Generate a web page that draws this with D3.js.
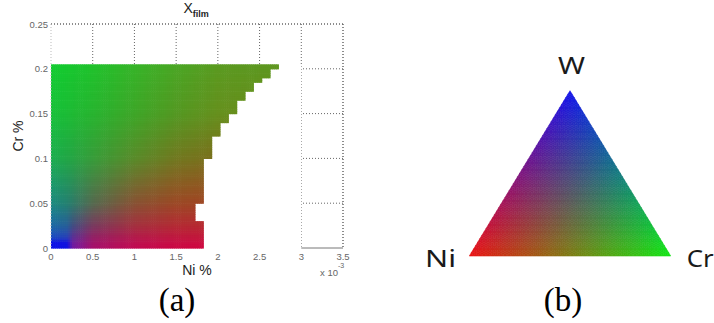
<!DOCTYPE html>
<html>
<head>
<meta charset="utf-8">
<script src="https://cdn.jsdelivr.net/npm/d3@7"></script>
<style>
  body { margin: 0; background: #fff; }
  svg { display: block; }
</style>
</head>
<body>
<div id="chart"></div>
<script>
// ---- panel (a) data ----
const niTicks = [0, 0.5, 1, 1.5, 2, 2.5, 3, 3.5];
const crTicks = [0, 0.05, 0.1, 0.15, 0.2, 0.25];
const crTickLabels = ['0', '0.05', '0.1', '0.15', '0.2', '0.25'];

// edge of the computed region, band by band (Cr range -> largest Ni)
const bandCrLow = [0, 0.03, 0.05, 0.1, 0.125, 0.14, 0.15, 0.165, 0.175, 0.185, 0.19, 0.2];
const bandCrHigh = [0.03, 0.05, 0.1, 0.125, 0.14, 0.15, 0.165, 0.175, 0.185, 0.19, 0.2, 0.205];
const bandNiMax = [1.825, 1.725, 1.825, 1.925, 2.025, 2.125, 2.225, 2.325, 2.425, 2.525, 2.625, 2.725];

// film colour read at sample nodes (rows = Cr, columns = Ni)
const colorNi = [0, 0.2, 0.25, 0.5, 1.0, 1.5, 2.0, 2.75];
const colorCr = [0, 0.007, 0.012, 0.025, 0.05, 0.1, 0.15, 0.205];
const colorRows = [
  ['#0a10e8', '#1010e0', '#7018a8', '#a8106e', '#c20a52', '#cc0844', '#d2063c', '#d2063c'],
  ['#0a10e8', '#1414dc', '#6a20a0', '#a0166a', '#bc1250', '#c81044', '#cc0e3e', '#cc0e3e'],
  ['#1848c4', '#2a40b8', '#5a3098', '#942066', '#b41a4c', '#c01840', '#c41638', '#c41638'],
  ['#1a68a6', '#285e98', '#404e84', '#7a3a60', '#a43040', '#b42a34', '#b82830', '#b82830'],
  ['#1a8a80', '#268070', '#2e7c6a', '#566a50', '#885234', '#9c4826', '#a24422', '#a24422'],
  ['#1cac50', '#22a646', '#26a444', '#389c3a', '#5a8a2a', '#727820', '#7c6e1c', '#7c6e1c'],
  ['#18c03a', '#1cbc36', '#1eba34', '#28b430', '#3ea628', '#549822', '#66901e', '#6a8c1c'],
  ['#12cc30', '#16c82e', '#18c62e', '#20c22c', '#36b428', '#4aa624', '#5a9a20', '#5e9620'],
];

// ---- panel (b) data ----
const vertexLabels = ['Ni', 'Cr', 'W'];
const vertexColors = [[235, 20, 20], [20, 230, 20], [20, 20, 235]];

const width = 714;
const height = 323;

const svg = d3.select('#chart')
  .append('svg')
  .attr('width', width)
  .attr('height', height)
  .style('font-family', '"Liberation Sans", Arial, sans-serif');

svg.append('rect').attr('width', width).attr('height', height).attr('fill', '#fff');

// ================= panel (a) =================
const x = d3.scaleLinear().domain([0, 3.5]).range([51, 343]);
const y = d3.scaleLinear().domain([0, 0.25]).range([248, 24]);

const a = svg.append('g');
const dotted = '1,2';

// grid + box (dotted)
a.selectAll('.vgrid')
  .data(niTicks.slice(1))
  .join('line')
  .attr('x1', (d) => x(d)).attr('x2', (d) => x(d))
  .attr('y1', y(0.25)).attr('y2', y(0))
  .attr('stroke', '#666').attr('stroke-dasharray', dotted);

a.selectAll('.hgrid')
  .data(crTicks.slice(1))
  .join('line')
  .attr('x1', x(0)).attr('x2', x(3.5))
  .attr('y1', (d) => y(d)).attr('y2', (d) => y(d))
  .attr('stroke', '#666').attr('stroke-dasharray', dotted);

a.append('line')
  .attr('x1', x(0)).attr('x2', x(3.5))
  .attr('y1', y(0)).attr('y2', y(0))
  .attr('stroke', '#777');

// the image area hides the grid up to Ni = 3
a.append('rect')
  .attr('x', x(0))
  .attr('y', y(0.205))
  .attr('width', x(3) - x(0))
  .attr('height', y(0) - y(0.205) + 1)
  .attr('fill', '#fff');

// colour cells
const rowScales = colorRows.map((row) => d3.scaleLinear()
  .domain(colorNi).range(row).interpolate(d3.interpolateRgb).clamp(true));

const cellColor = (ni, cr) => d3.scaleLinear()
  .domain(colorCr)
  .range(rowScales.map((s) => s(ni)))
  .interpolate(d3.interpolateRgb)
  .clamp(true)(cr);

const dNi = 0.025;
const dCr = 0.0025;
const cells = [];
for (let j = 0; j * dCr < 0.205 - 1e-9; j++) {
  const cr = j * dCr;
  const b = bandCrLow.findIndex((lo, k) => cr >= lo - 1e-9 && cr < bandCrHigh[k] - 1e-9);
  if (b < 0) continue;
  for (let i = 0; (i + 1) * dNi <= bandNiMax[b] + 1e-9; i++) {
    const ni = i * dNi;
    cells.push({ ni, cr, color: cellColor(ni + dNi / 2, cr + dCr / 2) });
  }
}

a.append('g')
  .selectAll('rect')
  .data(cells)
  .join('rect')
  .attr('x', (d) => x(d.ni))
  .attr('y', (d) => y(d.cr + dCr))
  .attr('width', x(dNi) - x(0) + 0.6)
  .attr('height', y(0) - y(dCr) + 0.6)
  .attr('fill', (d) => d.color);

// top, right and left edges of the box
a.append('line')
  .attr('x1', x(0)).attr('x2', x(3.5)).attr('y1', y(0.25)).attr('y2', y(0.25))
  .attr('stroke', '#666').attr('stroke-dasharray', dotted);
a.append('line')
  .attr('x1', x(3.5)).attr('x2', x(3.5)).attr('y1', y(0.25)).attr('y2', y(0))
  .attr('stroke', '#666').attr('stroke-dasharray', dotted);
a.append('line')
  .attr('x1', x(0)).attr('x2', x(0)).attr('y1', y(0.25)).attr('y2', y(0))
  .attr('stroke', '#bbb').attr('stroke-dasharray', dotted);

// tick labels
a.selectAll('.xtick')
  .data(niTicks)
  .join('text')
  .attr('x', (d) => x(d))
  .attr('y', 260)
  .attr('text-anchor', 'middle')
  .attr('font-size', 9.5)
  .attr('fill', '#666')
  .text((d) => d);

a.selectAll('.ytick')
  .data(crTicks)
  .join('text')
  .attr('x', x(0) - 3)
  .attr('y', (d) => y(d) + 3.5)
  .attr('text-anchor', 'end')
  .attr('font-size', 9.5)
  .attr('fill', '#666')
  .text((d, i) => crTickLabels[i]);

const exp = a.append('text').attr('x', 320).attr('y', 276).attr('font-size', 9.5).attr('fill', '#666');
exp.append('tspan').text('x 10');
exp.append('tspan').attr('dy', -8).attr('font-size', 7).text('-3');

// titles
const title = a.append('text').attr('x', 183.5).attr('y', 12.5).attr('fill', '#222').attr('font-size', 14);
title.append('tspan').text('X');
title.append('tspan').attr('dy', 4.5).attr('font-size', 9).attr('font-weight', 'bold').text('film');

a.append('text')
  .attr('x', (x(0) + x(3.5)) / 2)
  .attr('y', 275)
  .attr('text-anchor', 'middle')
  .attr('font-size', 14)
  .attr('fill', '#222')
  .text('Ni %');

a.append('text')
  .attr('transform', `translate(23, ${(y(0) + y(0.25)) / 2}) rotate(-90)`)
  .attr('text-anchor', 'middle')
  .attr('font-size', 14)
  .attr('fill', '#222')
  .text('Cr %');

// ================= panel (b) =================
const tx = d3.scaleLinear().domain([0, 1]).range([469.3, 670.7]);
const ty = d3.scaleLinear().domain([0, 1]).range([256, 90.7]);
const pos = (ni, cr, w) => [tx(cr + w / 2), ty(w)];
const mix = (ni, cr, w) => d3.rgb(...[0, 1, 2].map((k) =>
  ni * vertexColors[0][k] + cr * vertexColors[1][k] + w * vertexColors[2][k]));

const n = 48;
const tris = [];
for (let i = 0; i < n; i++) {
  for (let j = 0; j < n - i; j++) {
    tris.push([[i, j], [i + 1, j], [i, j + 1]]);
    if (j < n - i - 1) tris.push([[i + 1, j], [i + 1, j + 1], [i, j + 1]]);
  }
}

const triPath = (t) => 'M' + t.map(([i, j]) => pos(1 - (i + j) / n, i / n, j / n).join(',')).join('L') + 'Z';
const triColor = (t) => {
  const ci = d3.mean(t, (p) => p[0]) / n;
  const cj = d3.mean(t, (p) => p[1]) / n;
  return mix(1 - ci - cj, ci, cj).formatHex();
};

svg.append('g')
  .selectAll('path')
  .data(tris)
  .join('path')
  .attr('d', triPath)
  .attr('fill', triColor)
  .attr('stroke', triColor)
  .attr('stroke-width', 0.6);

// vertex labels, stretched to the widths seen in the figure
const labelFont = '"Noto Sans", "Open Sans", sans-serif';
const vertexText = [
  { label: vertexLabels[2], x: 558, y: 74.3, len: 27 },
  { label: vertexLabels[0], x: 425, y: 266.7, len: 31 },
  { label: vertexLabels[1], x: 686.7, y: 266.7, len: 27 },
];
svg.append('g')
  .selectAll('text')
  .data(vertexText)
  .join('text')
  .attr('x', (d) => d.x)
  .attr('y', (d) => d.y)
  .attr('textLength', (d) => d.len)
  .attr('lengthAdjust', 'spacingAndGlyphs')
  .attr('font-family', labelFont)
  .attr('font-size', 23)
  .attr('fill', '#1a1a1a')
  .text((d) => d.label);

// panel captions
const serif = '"Liberation Serif", "Times New Roman", serif';
svg.append('text').attr('x', 177).attr('y', 311).attr('text-anchor', 'middle')
  .attr('font-family', serif).attr('font-size', 33).attr('fill', '#000').text('(a)');
svg.append('text').attr('x', 563).attr('y', 311).attr('text-anchor', 'middle')
  .attr('font-family', serif).attr('font-size', 33).attr('fill', '#000').text('(b)');
</script>
</body>
</html>
